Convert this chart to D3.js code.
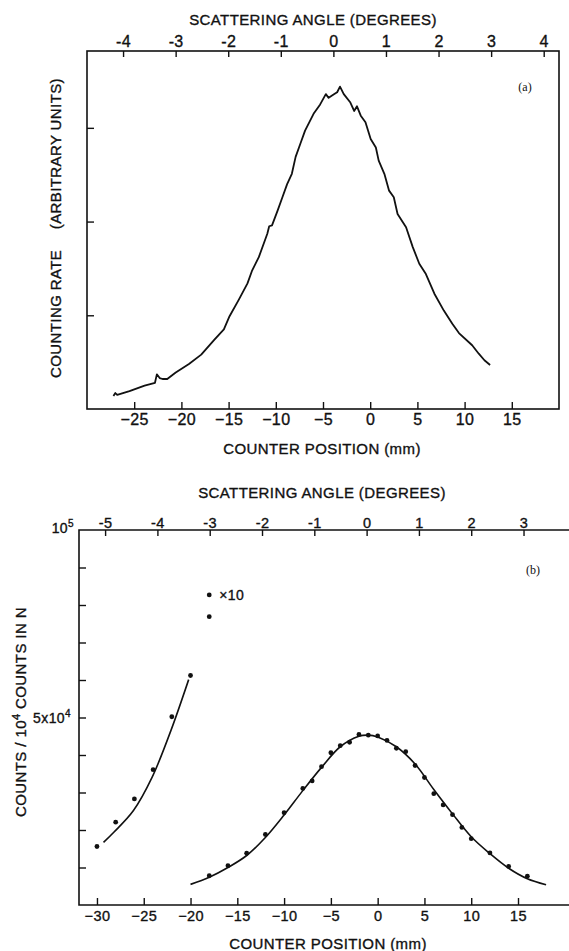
<!DOCTYPE html>
<html>
<head>
<meta charset="utf-8">
<script src="https://cdn.jsdelivr.net/npm/d3@7"></script>
<style>
  body { margin: 0; background: #fff; }
  svg { display: block; }
  text { font-family: "Liberation Sans", Arial, sans-serif; fill: #111; stroke: #111; stroke-width: 0.35px; letter-spacing: 0.4px; }
  .tag { font-family: "Liberation Serif", serif; stroke-width: 0; letter-spacing: 0; }
</style>
</head>
<body>
<div id="chart"></div>
<script>
// panel (a): counting rate trace vs counter position
const traceMm = [-27.2,-27.0,-26.8,-25.5,-23.9,-22.8,-22.6,-22.3,-22.0,-21.5,-20.6,-19.2,-17.9,-16.5,-15.5,-14.9,-13.9,-13.0,-12.5,-11.8,-10.9,-10.7,-10.4,-9.8,-9.3,-8.8,-8.3,-7.9,-7.4,-6.9,-6.0,-5.3,-4.7,-4.4,-3.8,-3.5,-3.2,-2.8,-2.1,-1.7,-1.4,-1.0,-0.5,0.05,0.6,0.9,1.5,2.0,2.5,2.9,3.8,4.5,5.2,5.9,6.8,7.8,8.7,9.4,10.8,11.5,12.1,12.7]
const traceRate = [0.14,0.17,0.15,0.19,0.25,0.28,0.37,0.33,0.32,0.32,0.39,0.48,0.58,0.74,0.85,0.99,1.17,1.34,1.48,1.62,1.87,1.95,1.96,2.12,2.26,2.40,2.51,2.69,2.83,2.97,3.15,3.25,3.36,3.32,3.36,3.38,3.44,3.36,3.27,3.18,3.23,3.13,3.06,2.88,2.79,2.65,2.51,2.33,2.26,2.08,1.94,1.73,1.55,1.44,1.23,1.05,0.91,0.81,0.68,0.59,0.52,0.47]

// panel (b): counts per 10^4 counts in N (values in units of 10^4)
const pointMm = [-18,-16,-14,-12,-10,-8,-7,-6,-5,-4,-3,-2,-1,0,1,2,3,4,5,6,7,8,9,10,12,14,16]
const pointCounts = [0.78,1.05,1.38,1.88,2.46,3.11,3.31,3.69,4.06,4.25,4.34,4.55,4.53,4.51,4.39,4.18,4.09,3.72,3.40,2.97,2.67,2.41,2.07,1.77,1.39,1.03,0.77]
const fitMm = [-20,-18,-16,-14,-12,-10,-8,-6,-4,-2,-1,0,2,4,6,8,10,12,14,16,18]
const fitCounts = [0.55,0.74,1.0,1.32,1.8,2.4,3.05,3.67,4.22,4.5,4.53,4.48,4.22,3.76,3.08,2.43,1.82,1.37,0.98,0.7,0.54]

// wing points shown x10
const wingMm = [-30,-28,-26,-24,-22,-20,-18]
const wingCounts = [1.56,2.21,2.83,3.61,5.02,6.12,7.69]
const wingFitMm = [-29.3,-28.2,-26.1,-24.1,-22.1,-20.2]
const wingFitCounts = [1.67,1.94,2.52,3.41,4.65,6.01]
const legendMm = -18, legendCounts = 8.27

const ticksMmA = [-25,-20,-15,-10,-5,0,5,10,15]
const ticksDegA = [-4,-3,-2,-1,0,1,2,3,4]
const ticksRateA = [1,2,3]
const ticksMmB = [-30,-25,-20,-15,-10,-5,0,5,10,15]
const ticksDegB = [-5,-4,-3,-2,-1,0,1,2,3]
const ticksCountsB = [1,2,3,4,5,6,7,8,9]

const width=569
const height=951

const svg=d3.select("#chart")
.append("svg")
.attr("width",width)
.attr("height",height)

const minus = v => (v<0 ? "\u2212" + Math.abs(v) : "" + v)
const hyph = v => (v<0 ? "-" + Math.abs(v) : "" + v)

// ---------- panel (a) ----------
const A = {l:87, r:559, t:51, b:409}
const xA=d3.scaleLinear().domain([-30,20]).range([A.l,A.r])
// angle axis: 0 deg at -3.9 mm, 5.57 mm per degree
const degA=d3.scaleLinear().domain([(-30+3.9)/5.57,(20+3.9)/5.57]).range([A.l,A.r])
const yA=d3.scaleLinear().domain([0,3.82]).range([A.b,A.t])

const gA=svg.append("g")

gA.append("g")
  .attr("transform",`translate(0,${A.b})`)
  .call(d3.axisBottom(xA).tickValues(ticksMmA).tickSize(-7).tickPadding(5).tickFormat(minus))
  .call(g=>g.select(".domain").remove())
  .call(g=>g.selectAll("text").style("font-size","16px"))

gA.append("g")
  .attr("transform",`translate(0,${A.t})`)
  .call(d3.axisTop(degA).tickValues(ticksDegA).tickSize(-6).tickPadding(4).tickFormat(hyph))
  .call(g=>g.select(".domain").remove())
  .call(g=>g.selectAll("text").style("font-size","16px"))

gA.append("g")
  .attr("transform",`translate(${A.l},0)`)
  .call(d3.axisLeft(yA).tickValues(ticksRateA).tickSize(-7).tickFormat(""))
  .call(g=>g.select(".domain").remove())

gA.selectAll(".tick line").attr("stroke","#111").attr("stroke-width",1.4)

gA.append("rect")
  .attr("x",A.l).attr("y",A.t)
  .attr("width",A.r-A.l).attr("height",A.b-A.t)
  .attr("fill","none").attr("stroke","#111").attr("stroke-width",1.6)

gA.append("path")
  .datum(traceMm.map((m,i)=>[m,traceRate[i]]))
  .attr("fill","none")
  .attr("stroke","#111")
  .attr("stroke-width",1.8)
  .attr("stroke-linejoin","round")
  .attr("d",d3.line().x(d=>xA(d[0])).y(d=>yA(d[1])))

gA.append("text")
  .attr("x",313).attr("y",25)
  .attr("text-anchor","middle")
  .style("font-size","15px")
  .text("SCATTERING ANGLE (DEGREES)")

gA.append("text")
  .attr("x",322).attr("y",454)
  .attr("text-anchor","middle")
  .style("font-size","15px")
  .text("COUNTER POSITION (mm)")

gA.append("text")
  .attr("transform","rotate(-90)")
  .attr("x",-378).attr("y",61)
  .attr("text-anchor","start")
  .style("font-size","15px")
  .text("COUNTING RATE")

gA.append("text")
  .attr("transform","rotate(-90)")
  .attr("x",-78).attr("y",61)
  .attr("text-anchor","end")
  .style("font-size","15px")
  .text("(ARBITRARY UNITS)")

gA.append("text")
  .attr("class","tag")
  .attr("x",525).attr("y",91)
  .attr("text-anchor","middle")
  .style("font-size","12px")
  .text("(a)")

// ---------- panel (b) ----------
const B = {l:79, r:569, t:530, b:905}
const xB=d3.scaleLinear().domain([-31.92,20.45]).range([B.l,B.r])
// angle axis: 0 deg at -1.18 mm, 5.59 mm per degree
const degB=d3.scaleLinear().domain([(-31.92+1.18)/5.59,(20.45+1.18)/5.59]).range([B.l,B.r])
const yB=d3.scaleLinear().domain([0,10]).range([B.b,B.t])

const gB=svg.append("g")

gB.append("g")
  .attr("transform",`translate(0,${B.b})`)
  .call(d3.axisBottom(xB).tickValues(ticksMmB).tickSize(-7).tickPadding(6).tickFormat(minus))
  .call(g=>g.select(".domain").remove())
  .call(g=>g.selectAll("text").style("font-size","14.5px"))

gB.append("g")
  .attr("transform",`translate(0,${B.t})`)
  .call(d3.axisTop(degB).tickValues(ticksDegB).tickSize(-6).tickPadding(2).tickFormat(hyph))
  .call(g=>g.select(".domain").remove())
  .call(g=>g.selectAll("text").style("font-size","14.5px"))

gB.append("g")
  .attr("transform",`translate(${B.l},0)`)
  .call(d3.axisLeft(yB).tickValues(ticksCountsB).tickSize(-7).tickFormat(""))
  .call(g=>g.select(".domain").remove())

gB.selectAll(".tick line").attr("stroke","#111").attr("stroke-width",1.4)

// frame: left, top, bottom (open on the right)
gB.append("path")
  .attr("d",`M${B.r},${B.t}H${B.l}V${B.b}H${B.r}`)
  .attr("fill","none").attr("stroke","#111").attr("stroke-width",1.6)

const lineB=d3.line().x(d=>xB(d[0])).y(d=>yB(d[1])).curve(d3.curveCatmullRom)

gB.append("path")
  .datum(fitMm.map((m,i)=>[m,fitCounts[i]]))
  .attr("fill","none").attr("stroke","#111").attr("stroke-width",1.6)
  .attr("d",lineB)

gB.append("path")
  .datum(wingFitMm.map((m,i)=>[m,wingFitCounts[i]]))
  .attr("fill","none").attr("stroke","#111").attr("stroke-width",1.6)
  .attr("d",lineB)

gB.selectAll("circle.pt")
  .data(pointMm.map((m,i)=>[m,pointCounts[i]]))
  .join("circle")
  .attr("class","pt")
  .attr("cx",d=>xB(d[0]))
  .attr("cy",d=>yB(d[1]))
  .attr("r",2.4)
  .attr("fill","#111")

gB.selectAll("circle.wing")
  .data(wingMm.map((m,i)=>[m,wingCounts[i]]))
  .join("circle")
  .attr("class","wing")
  .attr("cx",d=>xB(d[0]))
  .attr("cy",d=>yB(d[1]))
  .attr("r",2.4)
  .attr("fill","#111")

// x10 key
gB.append("circle")
  .attr("cx",xB(legendMm)).attr("cy",yB(legendCounts))
  .attr("r",2.4).attr("fill","#111")
gB.append("text")
  .attr("x",xB(legendMm)+10).attr("y",yB(legendCounts)+5)
  .style("font-size","14px")
  .text("\u00d710")

// y tick labels 10^5 and 5x10^4
const y5 = gB.append("text")
  .attr("x",B.l-5).attr("y",yB(10)+3)
  .attr("text-anchor","end")
  .style("font-size","14px")
y5.append("tspan").text("10")
y5.append("tspan").attr("dy","-6").style("font-size","10px").text("5")

const y4 = gB.append("text")
  .attr("x",B.l-8).attr("y",yB(5)+5)
  .attr("text-anchor","end")
  .style("font-size","14px")
y4.append("tspan").text("5x10")
y4.append("tspan").attr("dy","-6").style("font-size","10px").text("4")

gB.append("text")
  .attr("x",322).attr("y",498)
  .attr("text-anchor","middle")
  .style("font-size","15px")
  .text("SCATTERING ANGLE (DEGREES)")

gB.append("text")
  .attr("x",328).attr("y",949)
  .attr("text-anchor","middle")
  .style("font-size","15px")
  .text("COUNTER POSITION (mm)")

const yl = gB.append("text")
  .attr("transform","rotate(-90)")
  .attr("x",-712).attr("y",26)
  .attr("text-anchor","middle")
  .style("font-size","15px")
yl.append("tspan").text("COUNTS / 10")
yl.append("tspan").attr("dy","-6").style("font-size","11px").text("4")
yl.append("tspan").attr("dy","6").text(" COUNTS  IN  N")

gB.append("text")
  .attr("class","tag")
  .attr("x",533).attr("y",574)
  .attr("text-anchor","middle")
  .style("font-size","12px")
  .text("(b)")
</script>
</body>
</html>
